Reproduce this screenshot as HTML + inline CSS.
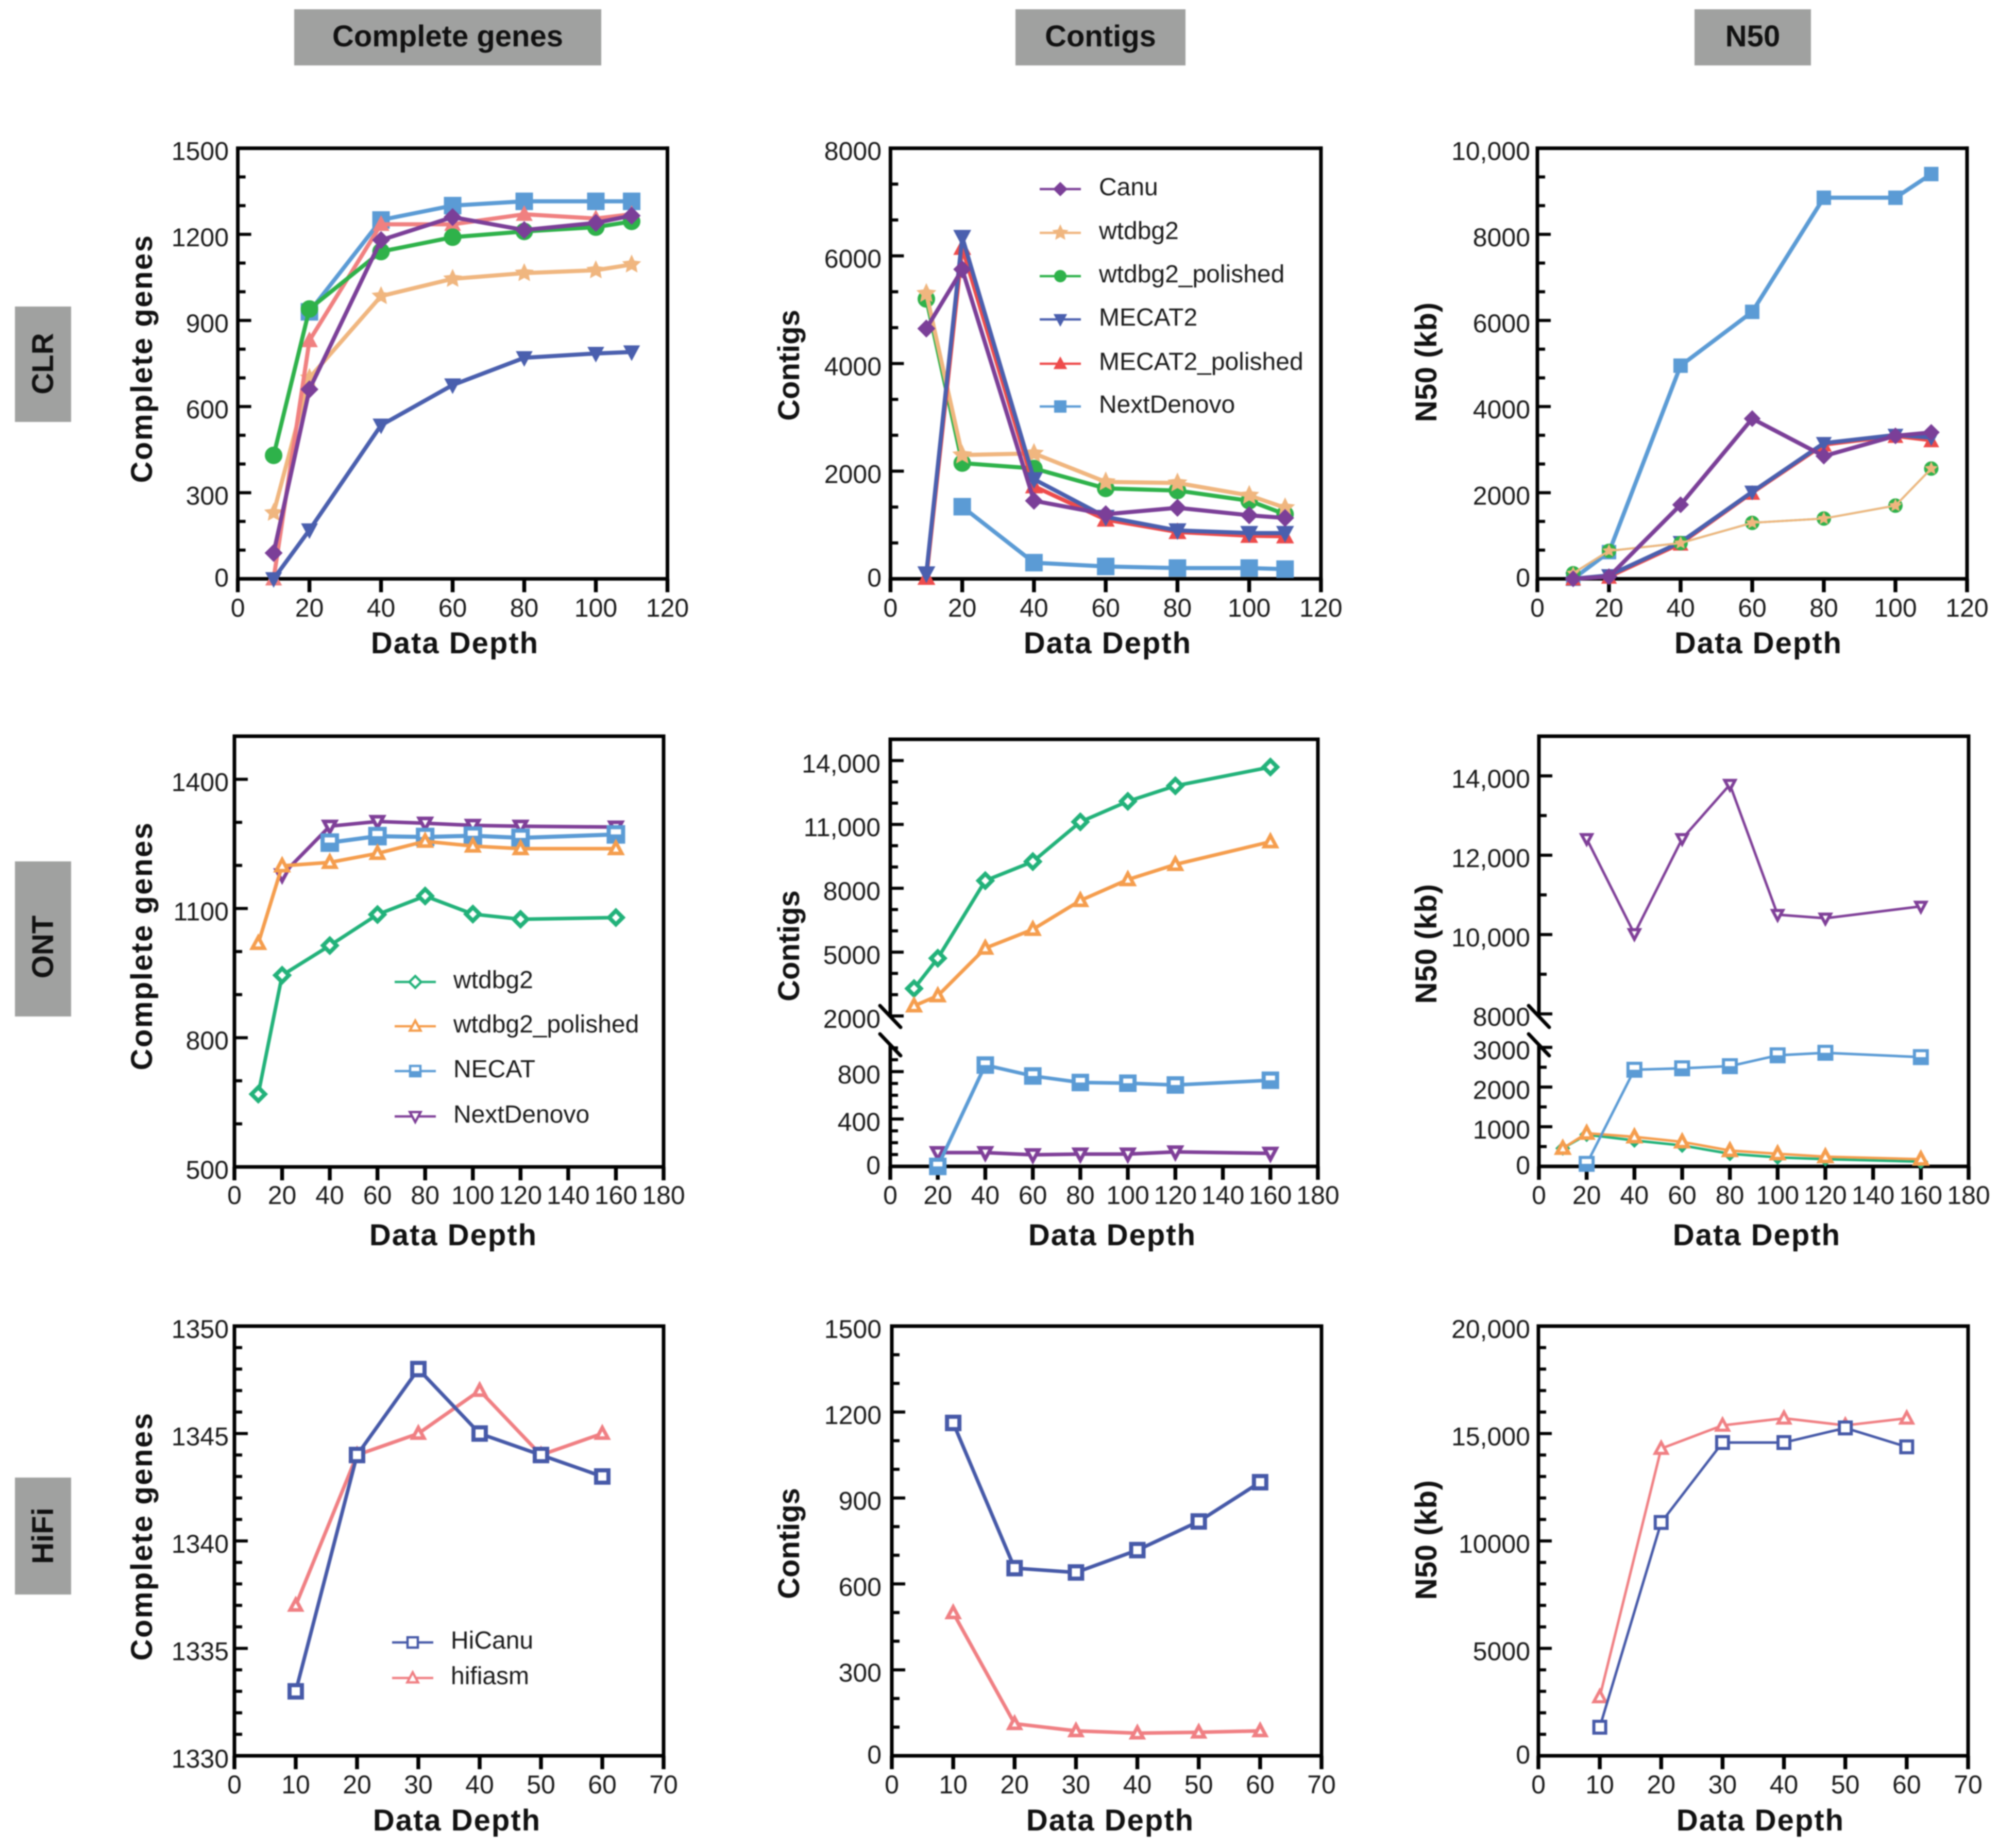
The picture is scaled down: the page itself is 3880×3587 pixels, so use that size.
<!DOCTYPE html>
<html lang="en">
<head>
<meta charset="utf-8">
<title>Assembly metrics by data depth</title>
<style>
html,body{margin:0;padding:0;background:#fff;}
#figure{display:block;width:3880px;height:3587px;filter:blur(1px);}
text{font-family:"Liberation Sans",Arial,sans-serif;fill:#1a1a1a;}
.head{font-weight:700;font-size:58px;text-anchor:middle;fill:#111;}
.title{font-weight:700;font-size:58px;letter-spacing:2px;text-anchor:middle;fill:#111;}
.title-genes{letter-spacing:2.5px;}
.title-contigs{letter-spacing:0;}
.title-n50{letter-spacing:0.5px;}
.tick{font-size:50px;}
.legend{font-size:48px;}
</style>
</head>
<body>
<svg id="figure" xmlns="http://www.w3.org/2000/svg" viewBox="0 0 3880 3587">
  <rect width="3880" height="3587" fill="#fff"/>

  <g>
    <rect x="571" y="18" width="596" height="109" fill="#a0a1a0"/>
    <text class="head" x="869" y="90">Complete genes</text>
    <rect x="1971" y="18" width="330" height="109" fill="#a0a1a0"/>
    <text class="head" x="2136" y="90">Contigs</text>
    <rect x="3289" y="18" width="226" height="109" fill="#a0a1a0"/>
    <text class="head" x="3402" y="90">N50</text>
  </g>

  <g>
    <rect x="29" y="595" width="109" height="224" fill="#a0a1a0"/>
    <text class="head" transform="translate(103 706) rotate(-90)" x="0" y="0">CLR</text>
    <rect x="29" y="1672" width="109" height="301" fill="#a0a1a0"/>
    <text class="head" transform="translate(103 1838) rotate(-90)" x="0" y="0">ONT</text>
    <rect x="29" y="2868" width="109" height="227" fill="#a0a1a0"/>
    <text class="head" transform="translate(103 2981) rotate(-90)" x="0" y="0">HiFi</text>
  </g>

  <g>
    <text class="title title-genes" transform="translate(295 696) rotate(-90)">Complete genes</text>
    <text class="title title-contigs" transform="translate(1551 709) rotate(-90)">Contigs</text>
    <text class="title title-n50" transform="translate(2788 703) rotate(-90)">N50 (kb)</text>
    <text class="title title-genes" transform="translate(295 1836) rotate(-90)">Complete genes</text>
    <text class="title title-contigs" transform="translate(1551 1836) rotate(-90)">Contigs</text>
    <text class="title title-n50" transform="translate(2788 1832) rotate(-90)">N50 (kb)</text>
    <text class="title title-genes" transform="translate(295 2982) rotate(-90)">Complete genes</text>
    <text class="title title-contigs" transform="translate(1551 2996) rotate(-90)">Contigs</text>
    <text class="title title-n50" transform="translate(2788 2989) rotate(-90)">N50 (kb)</text>

    <text class="title" x="883" y="1268">Data Depth</text>
    <text class="title" x="2150" y="1268">Data Depth</text>
    <text class="title" x="3413" y="1268">Data Depth</text>
    <text class="title" x="880" y="2417">Data Depth</text>
    <text class="title" x="2159" y="2417">Data Depth</text>
    <text class="title" x="3410" y="2417">Data Depth</text>
    <text class="title" x="887" y="3553">Data Depth</text>
    <text class="title" x="2155" y="3553">Data Depth</text>
    <text class="title" x="3417" y="3553">Data Depth</text>
  </g>

  <g id="charts"></g>
</svg>

<script>
/* ---------- shared depth categories and x tick values ---------- */
const clrDepth = [10, 20, 40, 60, 80, 100, 110];
const ontDepth = [10, 20, 40, 60, 80, 100, 120, 160];
const hifiDepth = [10, 20, 30, 40, 50, 60];
const clrXTicks = [0, 20, 40, 60, 80, 100, 120];
const ontXTicks = [0, 20, 40, 60, 80, 100, 120, 140, 160, 180];
const hifiXTicks = [0, 10, 20, 30, 40, 50, 60, 70];

/* ---------- CLR complete genes ---------- */
const clrGenesTicks = [0, 300, 600, 900, 1200, 1500];
const clrGenesLabels = ["0", "300", "600", "900", "1200", "1500"];
const clrGenesCanu = [90, 660, 1180, 1260, 1215, 1240, 1265];
const clrGenesWtdbg2 = [230, 700, 985, 1045, 1065, 1075, 1095];
const clrGenesWtdbg2Polished = [430, 940, 1140, 1190, 1210, 1225, 1245];
const clrGenesMecat2 = [0, 170, 535, 675, 770, 785, 790];
const clrGenesMecat2Polished = [0, 830, 1235, 1235, 1270, 1255, 1270];
const clrGenesNextDenovo = [null, 930, 1250, 1300, 1315, 1315, 1315];

/* ---------- CLR contigs ---------- */
const clrContigsTicks = [0, 2000, 4000, 6000, 8000];
const clrContigsLabels = ["0", "2000", "4000", "6000", "8000"];
const clrContigsCanu = [4650, 5750, 1450, 1200, 1320, 1180, 1130];
const clrContigsWtdbg2 = [5300, 2300, 2330, 1800, 1780, 1550, 1320];
const clrContigsWtdbg2Polished = [5200, 2150, 2050, 1680, 1640, 1450, 1200];
const clrContigsMecat2 = [100, 6350, 1850, 1150, 900, 850, 850];
const clrContigsMecat2Polished = [20, 6150, 1720, 1100, 870, 800, 790];
const clrContigsNextDenovo = [null, 1340, 300, 230, 200, 200, 180];

/* ---------- CLR N50 ---------- */
const clrN50Ticks = [0, 2000, 4000, 6000, 8000, 10000];
const clrN50Labels = ["0", "2000", "4000", "6000", "8000", "10,000"];
const clrN50Canu = [0, 50, 1720, 3720, 2850, 3320, 3400];
const clrN50Wtdbg2 = [130, 650, 830, 1300, 1400, 1700, 2560];
const clrN50Wtdbg2Polished = [130, 650, 830, 1300, 1400, 1700, 2560];
const clrN50Mecat2 = [0, 80, 850, 2020, 3150, 3340, 3280];
const clrN50Mecat2Polished = [-10, 30, 800, 1980, 3100, 3300, 3200];
const clrN50NextDenovo = [0, 620, 4950, 6200, 8850, 8850, 9400];

/* ---------- ONT complete genes ---------- */
const ontGenesTicks = [500, 800, 1100, 1400];
const ontGenesLabels = ["500", "800", "1100", "1400"];
const ontGenesWtdbg2 = [669, 945, 1014, 1086, 1129, 1087, 1075, 1079];
const ontGenesWtdbg2Polished = [1019, 1199, 1207, 1228, 1256, 1245, 1239, 1239];
const ontGenesNecat = [null, null, 1253, 1268, 1266, 1269, 1264, 1272];
const ontGenesNextDenovo = [null, 1178, 1291, 1302, 1298, 1293, 1291, 1289];

/* ---------- ONT contigs (broken y axis) ---------- */
const ontContigsUpperTicks = [2000, 5000, 8000, 11000, 14000];
const ontContigsUpperLabels = ["2000", "5000", "8000", "11,000", "14,000"];
const ontContigsLowerTicks = [0, 400, 800];
const ontContigsLowerLabels = ["0", "400", "800"];
const ontContigsWtdbg2 = [3288, 4712, 8356, 9254, 11119, 12085, 12814, 13695];
const ontContigsWtdbg2Polished = [2475, 2949, 5186, 6068, 7424, 8407, 9119, 10186];
const ontContigsNecat = [null, 0, 855, 763, 708, 702, 687, 727];
const ontContigsNextDenovo = [null, 116, 116, 98, 104, 104, 122, 110];

/* ---------- ONT N50 (broken y axis) ---------- */
const ontN50UpperTicks = [8000, 10000, 12000, 14000];
const ontN50UpperLabels = ["8000", "10,000", "12,000", "14,000"];
const ontN50LowerTicks = [0, 1000, 2000, 3000];
const ontN50LowerLabels = ["0", "1000", "2000", "3000"];
const ontN50Wtdbg2 = [455, 800, 655, 527, 318, 227, 182, 118];
const ontN50Wtdbg2Polished = [455, 836, 745, 618, 400, 318, 245, 182];
const ontN50Necat = [null, 64, 2436, 2473, 2527, 2800, 2864, 2755];
const ontN50NextDenovo = [null, 12415, 10018, 12415, 13781, 10501, 10410, 10710];

/* ---------- HiFi complete genes ---------- */
const hifiGenesTicks = [1330, 1335, 1340, 1345, 1350];
const hifiGenesLabels = ["1330", "1335", "1340", "1345", "1350"];
const hifiGenesHiCanu = [1333, 1344, 1348, 1345, 1344, 1343];
const hifiGenesHifiasm = [1337, 1344, 1345, 1347, 1344, 1345];

/* ---------- HiFi contigs ---------- */
const hifiContigsTicks = [0, 300, 600, 900, 1200, 1500];
const hifiContigsLabels = ["0", "300", "600", "900", "1200", "1500"];
const hifiContigsHiCanu = [1162, 655, 640, 718, 818, 955];
const hifiContigsHifiasm = [499, 112, 87, 79, 82, 87];

/* ---------- HiFi N50 ---------- */
const hifiN50Ticks = [0, 5000, 10000, 15000, 20000];
const hifiN50Labels = ["0", "5000", "10000", "15,000", "20,000"];
const hifiN50HiCanu = [1330, 10860, 14580, 14580, 15260, 14380];
const hifiN50Hifiasm = [2740, 14300, 15380, 15710, 15380, 15710];

/* ---------- legend text ---------- */
const clrLegendNames = ["Canu", "wtdbg2", "wtdbg2_polished", "MECAT2", "MECAT2_polished", "NextDenovo"];
const ontLegendNames = ["wtdbg2", "wtdbg2_polished", "NECAT", "NextDenovo"];
const hifiLegendNames = ["HiCanu", "hifiasm"];

/* ---------- styles (separate from data) ---------- */
const PURPLE = '#7b3f98', TAN = '#f0b67f', GREEN = '#2eb24a', NAVY = '#4a5fae',
      SALMON = '#f08080', RED = '#ee4b4b', BLUE = '#5b9bd5',
      TEAL = '#22b27a', ORANGE = '#f59d4d', ONTPURPLE = '#7f3f98',
      HINAVY = '#4659a8', HIPINK = '#f07f83';

const panels = [
  { key: 'clr-genes', l: 461.6, r: 1295.5, t: 287.7, b: 1123.5, xMax: 120, xTicks: clrXTicks, xBase: 1197, labelX: 444,
    segs: [{ min: 0, max: 1500, top: 287.7, bottom: 1123.5, ticks: clrGenesTicks, labels: clrGenesLabels, minor: 2 }],
    series: [
      { name: 'nextdenovo', x: clrDepth, y: clrGenesNextDenovo, c: BLUE, m: 'square', lw: 8, s: 16 },
      { name: 'wtdbg2', x: clrDepth, y: clrGenesWtdbg2, c: TAN, m: 'star', lw: 8, s: 17 },
      { name: 'mecat2-polished', x: clrDepth, y: clrGenesMecat2Polished, c: SALMON, m: 'up', lw: 8, s: 14 },
      { name: 'wtdbg2-polished', x: clrDepth, y: clrGenesWtdbg2Polished, c: GREEN, m: 'circle', lw: 8, s: 16 },
      { name: 'mecat2', x: clrDepth, y: clrGenesMecat2, c: NAVY, m: 'down', lw: 8, s: 14 },
      { name: 'canu', x: clrDepth, y: clrGenesCanu, c: PURPLE, m: 'diamond', lw: 8, s: 14 }
    ] },
  { key: 'clr-contigs', l: 1728.4, r: 2563.9, t: 287.7, b: 1123.5, xMax: 120, xTicks: clrXTicks, xBase: 1197, labelX: 1711,
    segs: [{ min: 0, max: 8000, top: 287.7, bottom: 1123.5, ticks: clrContigsTicks, labels: clrContigsLabels, minor: 2 }],
    series: [
      { name: 'wtdbg2-polished', x: clrDepth, y: clrContigsWtdbg2Polished, c: GREEN, m: 'circle', lw: 8, s: 16 },
      { name: 'wtdbg2', x: clrDepth, y: clrContigsWtdbg2, c: TAN, m: 'star', lw: 8, s: 18 },
      { name: 'mecat2-polished', x: clrDepth, y: clrContigsMecat2Polished, c: RED, m: 'up', lw: 8, s: 15 },
      { name: 'mecat2', x: clrDepth, y: clrContigsMecat2, c: NAVY, m: 'down', lw: 8, s: 15 },
      { name: 'nextdenovo', x: clrDepth, y: clrContigsNextDenovo, c: BLUE, m: 'square', lw: 8, s: 16 },
      { name: 'canu', x: clrDepth, y: clrContigsCanu, c: PURPLE, m: 'diamond', lw: 8, s: 14 }
    ],
    legend: { names: clrLegendNames, x1: 2018, x2: 2098, tx: 2133, ys: [367, 452, 536, 620, 706, 789], lw: 4.5, s: 11,
      styles: [[PURPLE, 'diamond'], [TAN, 'star'], [GREEN, 'circle'], [NAVY, 'down'], [RED, 'up'], [BLUE, 'square']] } },
  { key: 'clr-n50', l: 2984, r: 3818, t: 287.7, b: 1123.5, xMax: 120, xTicks: clrXTicks, xBase: 1197, labelX: 2970,
    segs: [{ min: 0, max: 10000, top: 287.7, bottom: 1123.5, ticks: clrN50Ticks, labels: clrN50Labels, minor: 2 }],
    series: [
      { name: 'nextdenovo', x: clrDepth, y: clrN50NextDenovo, c: BLUE, m: 'square', lw: 8, s: 13 },
      { name: 'mecat2-polished', x: clrDepth, y: clrN50Mecat2Polished, c: RED, m: 'up', lw: 5, s: 13 },
      { name: 'mecat2', x: clrDepth, y: clrN50Mecat2, c: NAVY, m: 'down', lw: 8, s: 13 },
      { name: 'wtdbg2-polished', x: clrDepth, y: clrN50Wtdbg2Polished, c: GREEN, m: 'circle', lw: 4, s: 13 },
      { name: 'wtdbg2', x: clrDepth, y: clrN50Wtdbg2, c: TAN, m: 'star', lw: 4, s: 11 },
      { name: 'canu', x: clrDepth, y: clrN50Canu, c: PURPLE, m: 'diamond', lw: 8, s: 13 }
    ] },

  { key: 'ont-genes', l: 455, r: 1288, t: 1429, b: 2265, xMax: 180, xTicks: ontXTicks, xBase: 2337, labelX: 444,
    segs: [{ min: 500, max: 1500, top: 1429, bottom: 2265, ticks: ontGenesTicks, labels: ontGenesLabels, minor: 2 }],
    series: [
      { name: 'wtdbg2', x: ontDepth, y: ontGenesWtdbg2, c: TEAL, m: 'diamond', open: 1, lw: 7, sw: 8, s: 11.5 },
      { name: 'nextdenovo', x: ontDepth, y: ontGenesNextDenovo, c: ONTPURPLE, m: 'down', open: 1, lw: 7, sw: 7, s: 11 },
      { name: 'necat', x: ontDepth, y: ontGenesNecat, c: BLUE, m: 'square', open: 1, half: 1, lw: 8, sw: 8, s: 14 },
      { name: 'wtdbg2-polished', x: ontDepth, y: ontGenesWtdbg2Polished, c: ORANGE, m: 'up', open: 1, lw: 7, sw: 7, s: 11 }
    ],
    legend: { names: ontLegendNames, x1: 766, x2: 846, tx: 880, ys: [1906, 1992, 2079, 2167], lw: 4.5, s: 10, open: 1,
      styles: [[TEAL, 'diamond'], [ORANGE, 'up'], [BLUE, 'square', 1], [ONTPURPLE, 'down']] } },
  { key: 'ont-contigs', l: 1728, r: 2558, t: 1435, b: 2264, xMax: 180, xTicks: ontXTicks, xBase: 2337, labelX: 1709, breaks: [1973, 2028],
    segs: [
      { min: 2000, max: 15000, top: 1435, bottom: 1973, ticks: ontContigsUpperTicks, labels: ontContigsUpperLabels, minor: 2, scaleBottom: 1972 },
      { min: 0, max: 1026, top: 2028, bottom: 2264, ticks: ontContigsLowerTicks, labels: ontContigsLowerLabels, minor: 3 }
    ],
    series: [
      { name: 'wtdbg2', seg: 0, x: ontDepth, y: ontContigsWtdbg2, c: TEAL, m: 'diamond', open: 1, lw: 7, sw: 8, s: 11.5 },
      { name: 'wtdbg2-polished', seg: 0, x: ontDepth, y: ontContigsWtdbg2Polished, c: ORANGE, m: 'up', open: 1, lw: 7, sw: 7, s: 11 },
      { name: 'nextdenovo', seg: 1, x: ontDepth, y: ontContigsNextDenovo, c: ONTPURPLE, m: 'down', open: 1, lw: 7, sw: 7, s: 11 },
      { name: 'necat', seg: 1, x: ontDepth, y: ontContigsNecat, c: BLUE, m: 'square', open: 1, half: 1, lw: 7, sw: 8, s: 13 }
    ] },
  { key: 'ont-n50', l: 2987, r: 3821, t: 1429, b: 2264, xMax: 180, xTicks: ontXTicks, xBase: 2337, labelX: 2970, breaks: [1973, 2028],
    segs: [
      { min: 8000, max: 15000, top: 1429, bottom: 1973, ticks: ontN50UpperTicks, labels: ontN50UpperLabels, minor: 1, scaleBottom: 1968 },
      { min: 0, max: 3065, top: 2028, bottom: 2264, ticks: ontN50LowerTicks, labels: ontN50LowerLabels, minor: 1 }
    ],
    series: [
      { name: 'wtdbg2', seg: 1, x: ontDepth, y: ontN50Wtdbg2, c: TEAL, m: 'diamond', open: 1, lw: 5, sw: 6, s: 9 },
      { name: 'wtdbg2-polished', seg: 1, x: ontDepth, y: ontN50Wtdbg2Polished, c: ORANGE, m: 'up', open: 1, lw: 5, sw: 7, s: 11 },
      { name: 'necat', seg: 1, x: ontDepth, y: ontN50Necat, c: BLUE, m: 'square', open: 1, half: 1, lw: 5, sw: 6, s: 12.5 },
      { name: 'nextdenovo', seg: 0, x: ontDepth, y: ontN50NextDenovo, c: ONTPURPLE, m: 'down', open: 1, lw: 5, sw: 6, s: 9.5 }
    ] },

  { key: 'hifi-genes', l: 455, r: 1288, t: 2574, b: 3408, xMax: 70, xTicks: hifiXTicks, xBase: 3481, labelX: 444,
    segs: [{ min: 1330, max: 1350, top: 2574, bottom: 3408, ticks: hifiGenesTicks, labels: hifiGenesLabels, minor: 4 }],
    series: [
      { name: 'hifiasm', x: hifiDepth, y: hifiGenesHifiasm, c: HIPINK, m: 'up', open: 1, lw: 7, sw: 7, s: 10.5 },
      { name: 'hicanu', x: hifiDepth, y: hifiGenesHiCanu, c: HINAVY, m: 'square', open: 1, lw: 7, sw: 8, s: 12 }
    ],
    legend: { names: hifiLegendNames, x1: 761, x2: 841, tx: 875, ys: [3188, 3257], lw: 4.5, s: 10, open: 1,
      styles: [[HINAVY, 'square'], [HIPINK, 'up']] } },
  { key: 'hifi-contigs', l: 1731, r: 2565, t: 2574, b: 3408, xMax: 70, xTicks: hifiXTicks, xBase: 3481, labelX: 1711,
    segs: [{ min: 0, max: 1500, top: 2574, bottom: 3408, ticks: hifiContigsTicks, labels: hifiContigsLabels, minor: 2 }],
    series: [
      { name: 'hifiasm', x: hifiDepth, y: hifiContigsHifiasm, c: HIPINK, m: 'up', open: 1, lw: 7, sw: 7, s: 10.5 },
      { name: 'hicanu', x: hifiDepth, y: hifiContigsHiCanu, c: HINAVY, m: 'square', open: 1, lw: 7, sw: 8, s: 12 }
    ] },
  { key: 'hifi-n50', l: 2986, r: 3820, t: 2574, b: 3408, xMax: 70, xTicks: hifiXTicks, xBase: 3481, labelX: 2970,
    segs: [{ min: 0, max: 20000, top: 2574, bottom: 3408, ticks: hifiN50Ticks, labels: hifiN50Labels, minor: 4 }],
    series: [
      { name: 'hifiasm', x: hifiDepth, y: hifiN50Hifiasm, c: HIPINK, m: 'up', open: 1, lw: 5, sw: 6, s: 11 },
      { name: 'hicanu', x: hifiDepth, y: hifiN50HiCanu, c: HINAVY, m: 'square', open: 1, lw: 5, sw: 6, s: 11.5 }
    ] }
];

const NS = 'http://www.w3.org/2000/svg';
const AXIS = '#000';

function mk(parent, tag, attrs) {
  const el = document.createElementNS(NS, tag);
  for (const k in attrs) el.setAttribute(k, attrs[k]);
  parent.appendChild(el);
  return el;
}

function segScale(seg) {
  const bottom = seg.scaleBottom !== undefined ? seg.scaleBottom : seg.bottom;
  return function (v) {
    return bottom - (v - seg.min) / (seg.max - seg.min) * (bottom - seg.top);
  };
}

function markerPoints(kind, cx, cy, r) {
  let pts;
  if (kind === 'diamond') pts = [[0, -1.15], [1.15, 0], [0, 1.15], [-1.15, 0]];
  else if (kind === 'up') pts = [[0, -1.1], [1.05, 0.85], [-1.05, 0.85]];
  else if (kind === 'down') pts = [[0, 1.1], [1.05, -0.85], [-1.05, -0.85]];
  else if (kind === 'star') {
    pts = [];
    for (let i = 0; i < 10; i++) {
      const a = -Math.PI / 2 + i * Math.PI / 5;
      const q = i % 2 ? 0.48 : 1;
      pts.push([q * Math.cos(a), q * Math.sin(a)]);
    }
  }
  return pts.map(p => (cx + p[0] * r).toFixed(1) + ',' + (cy + p[1] * r).toFixed(1)).join(' ');
}

function drawMarker(parent, kind, cx, cy, r, color, open, half, sw) {
  const fill = open ? '#fff' : color;
  const stroke = open ? sw : 2;
  let el;
  if (kind === 'circle') {
    el = mk(parent, 'circle', { cx: cx, cy: cy, r: r, fill: fill, stroke: color, 'stroke-width': stroke });
  } else if (kind === 'square') {
    el = mk(parent, 'rect', { x: cx - r, y: cy - r, width: 2 * r, height: 2 * r, fill: fill, stroke: color, 'stroke-width': stroke });
    if (half) {
      const lower = mk(parent, 'rect', { x: cx - r, y: cy, width: 2 * r, height: r, fill: color });
      
      
    }
  } else {
    el = mk(parent, 'polygon', { points: markerPoints(kind, cx, cy, r), fill: fill, stroke: color, 'stroke-width': stroke, 'stroke-linejoin': 'miter' });
  }
  
  
}

function drawPanel(p, root) {
  const g = mk(root, 'g', {});
  
  

  const xs = v => p.l + v / p.xMax * (p.r - p.l);
  const scales = p.segs.map(segScale);

  /* frame */
  const frame = mk(g, 'g', { stroke: AXIS, 'stroke-width': 7, 'stroke-linecap': 'square', fill: 'none' });
  
  
  mk(frame, 'line', { x1: p.l, y1: p.t, x2: p.r, y2: p.t });
  mk(frame, 'line', { x1: p.r, y1: p.t, x2: p.r, y2: p.b });
  mk(frame, 'line', { x1: p.l, y1: p.b, x2: p.r, y2: p.b });
  p.segs.forEach(seg => {
    const axisLine = mk(frame, 'line', { x1: p.l, y1: seg.top, x2: p.l, y2: seg.bottom, 'stroke-linecap': 'butt' });
    
    
  });

  /* axis break marks */
  (p.breaks || []).forEach(by => {
    const mark = mk(g, 'line', { x1: p.l - 20, y1: by - 21, x2: p.l + 20, y2: by + 21, stroke: AXIS, 'stroke-width': 7, 'stroke-linecap': 'round' });
    
    
  });

  /* x ticks */
  p.xTicks.forEach(v => {
    const x = xs(v);
    const tick = mk(g, 'line', { x1: x, y1: p.b, x2: x, y2: p.b + 26, stroke: AXIS, 'stroke-width': 7.5 });
    
    
    const label = mk(g, 'text', { x: x, y: p.xBase, 'text-anchor': 'middle', 'class': 'tick' });
    label.textContent = String(v);
    
    
  });

  /* y ticks */
  p.segs.forEach((seg, si) => {
    const sc = scales[si];
    seg.ticks.forEach((v, i) => {
      const y = sc(v);
      const tick = mk(g, 'line', { x1: p.l, y1: y, x2: p.l + 26, y2: y, stroke: AXIS, 'stroke-width': 6 });
      
      
      const label = mk(g, 'text', { x: p.labelX, y: y + (v === 0 ? 15 : 23), 'text-anchor': 'end', 'class': 'tick' });
      label.textContent = seg.labels[i];
      
      
    });
    const step = (seg.ticks[1] - seg.ticks[0]) / (seg.minor + 1);
    for (let v = seg.ticks[0] - step; v > seg.min; v -= step) addMinor(g, p, sc(v));
    for (let v = seg.ticks[0] + step; v < seg.max - 1e-6; v += step) {
      if (!seg.ticks.some(t => Math.abs(t - v) < step / 10)) addMinor(g, p, sc(v));
    }
  });

  /* series */
  p.series.forEach(s => {
    const sc = scales[s.seg || 0];
    const sg = mk(g, 'g', {});
    
    
    const pts = [];
    s.y.forEach((v, i) => { if (v !== null) pts.push([xs(s.x[i]), sc(v)]); });
    const line = mk(sg, 'polyline', {
      points: pts.map(q => q[0].toFixed(1) + ',' + q[1].toFixed(1)).join(' '),
      fill: 'none', stroke: s.c, 'stroke-width': s.lw, 'stroke-linejoin': 'round'
    });
    
    
    pts.forEach(q => drawMarker(sg, s.m, q[0], q[1], s.s, s.c, s.open, s.half, s.sw || s.lw));
  });

  /* legend */
  if (p.legend) {
    const lg = p.legend;
    const legendGroup = mk(g, 'g', {});
    
    
    lg.names.forEach((name, i) => {
      const st = lg.styles[i];
      const entry = mk(legendGroup, 'g', {});
      
      
      const y = lg.ys[i];
      mk(entry, 'line', { x1: lg.x1, y1: y, x2: lg.x2, y2: y, stroke: st[0], 'stroke-width': lg.lw });
      drawMarker(entry, st[1], (lg.x1 + lg.x2) / 2, y, st[1] === 'star' ? lg.s * 1.3 : lg.s, st[0], lg.open, st[2], 4.5);
      const t = mk(entry, 'text', { x: lg.tx, y: y + 12, 'class': 'legend' });
      t.textContent = name;
      
      
    });
  }
}

function addMinor(g, p, y) {
  const tick = mk(g, 'line', { x1: p.l, y1: y, x2: p.l + 15, y2: y, stroke: AXIS, 'stroke-width': 6 });
  
  
}

const chartsRoot = document.getElementById('charts');
panels.forEach(p => drawPanel(p, chartsRoot));
</script>
</body>
</html>
